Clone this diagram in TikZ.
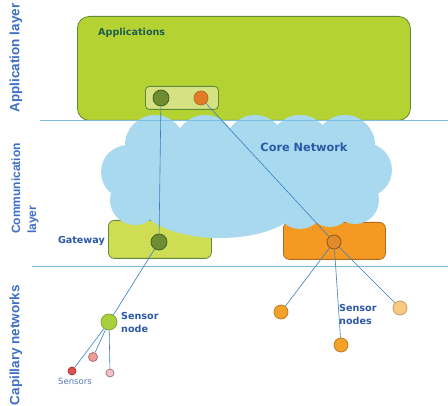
\documentclass[tikz,border=0pt]{standalone}
\usepackage{fontspec}
\setmainfont{DejaVu Sans}
\newfontfamily\layerfont{Liberation Sans}
\definecolor{appgreen}{HTML}{B4D232}
\definecolor{appedge}{HTML}{5E8A3A}
\definecolor{subfill}{HTML}{D6E282}
\definecolor{olivedot}{HTML}{6E8C32}
\definecolor{oliveedge}{HTML}{3D6020}
\definecolor{gwfill}{HTML}{CFDD55}
\definecolor{orfill}{HTML}{F49A22}
\definecolor{oredge}{HTML}{B46A1E}
\definecolor{ordot}{HTML}{E08A2A}
\definecolor{ordotedge}{HTML}{8A5020}
\definecolor{cloudblue}{HTML}{A8D9EE}
\definecolor{limedot}{HTML}{A8D03A}
\definecolor{limeedge}{HTML}{7FA030}
\definecolor{sensred}{HTML}{E05050}
\definecolor{senspink}{HTML}{EE9A9A}
\definecolor{senslight}{HTML}{F5C0C8}
\definecolor{ornode}{HTML}{F4A12A}
\definecolor{ornodeedge}{HTML}{B87A20}
\definecolor{orlight}{HTML}{F9C882}
\definecolor{linkblue}{HTML}{3A7FC0}
\definecolor{sepblue}{HTML}{7DBEE0}
\definecolor{layerblue}{HTML}{3D6FC6}
\definecolor{tagblue}{HTML}{2A58A8}
\definecolor{appteal}{HTML}{1E5E50}

\begin{document}
\begin{tikzpicture}[x=1pt,y=-1pt,
    box/.style={draw=appedge, line width=0.8pt, rounded corners=6pt, inner sep=0, anchor=north west},
    dot/.style={circle, inner sep=0, minimum size=#1, line width=0.7pt},
    link/.style={draw=linkblue, line width=0.6pt},
    sep/.style={draw=sepblue, line width=0.6pt},
    layer/.style={rotate=90, inner sep=0, text=layerblue, font=\layerfont\bfseries\fontsize{13.5}{16}\selectfont},
    tag/.style={inner sep=0, text=tagblue, align=left, font=\bfseries\fontsize{9.6}{13}\selectfont}]
  \useasboundingbox (0,0) rectangle (448,406);

  % Application layer
  \node[box, fill=appgreen, rounded corners=12pt, minimum width=333pt, minimum height=104pt] (app) at (77,16) {};
  \node[anchor=north west, inner sep=0, text=appteal, font=\bfseries\fontsize{9.6}{12}\selectfont] (apptext) at (98,28) {Applications};
  \node[box, fill=subfill, rounded corners=4pt, minimum width=73pt, minimum height=23pt] (appsub) at (145,86) {};

  % Gateways
  \node[box, fill=gwfill, minimum width=103pt, minimum height=38pt] (gw) at (108,220) {};
  \node[box, draw=oredge, fill=orfill, minimum width=102pt, minimum height=37pt] (orbox) at (283,222) {};

  % Core network cloud
  \fill[cloudblue] (135,140) rectangle (365,220)
    (155,145) circle[radius=30pt] (205,145) circle[radius=30pt]
    (255,145) circle[radius=30pt] (300,145) circle[radius=30pt]
    (345,145) circle[radius=30pt]
    (128,172) circle[radius=27pt] (135,200) circle[radius=25pt]
    (365,170) circle[radius=27pt] (355,200) circle[radius=24pt]
    (220,200) ellipse[x radius=82pt, y radius=38pt]
    (300,205) circle[radius=24pt] (330,205) circle[radius=22pt];
  \node[tag, font=\bfseries\fontsize{11.3}{13}\selectfont] (core) at (304,147) {Core Network};

  % layer borders
  \draw[sep] (40,120) -- (448,120);
  \draw[sep] (32,266) -- (448,266);

  % Nodes
  \node[dot=16pt, fill=olivedot, draw=oliveedge] (appg) at (161,98) {};
  \node[dot=14pt, fill=ordot!90!red, draw=oredge] (appo) at (201,98) {};
  \node[dot=16pt, fill=olivedot, draw=oliveedge] (gwn) at (159,242) {};
  \node[dot=14pt, fill=ordot, draw=ordotedge] (orn) at (334,242) {};
  \node[dot=16pt, fill=limedot, draw=limeedge] (sn) at (109,322) {};
  \node[dot=8pt, fill=sensred, draw=sensred!70!black] (s1) at (72,371) {};
  \node[dot=9pt, fill=senspink, draw=senspink!70!black] (s2) at (93,357) {};
  \node[dot=8pt, fill=senslight, draw=senslight!60!black] (s3) at (110,373) {};
  \node[dot=14pt, fill=ornode, draw=ornodeedge] (on1) at (281,312) {};
  \node[dot=14pt, fill=ornode, draw=ornodeedge] (on2) at (341,345) {};
  \node[dot=14pt, fill=orlight, draw=ornodeedge!80] (on3) at (400,308) {};

  % Links
  \draw[link] (appg) -- (gwn);
  \draw[link] (appo) -- (orn);
  \draw[link] (gwn) -- (sn);
  \draw[link] (sn) -- (s1);
  \draw[link] (sn) -- (s2);
  \draw[link] (sn) -- (s3);
  \draw[link] (orn) -- (on1);
  \draw[link] (orn) -- (on2);
  \draw[link] (orn) -- (on3);

  % Labels
  \node[tag, anchor=east] (gwtext) at (105,241) {Gateway};
  \node[tag, anchor=west] (sntext) at (121,323) {Sensor\\node};
  \node[tag, anchor=west] (ontext) at (339,315) {Sensor\\nodes};
  \node[inner sep=0, text=tagblue!80, font=\fontsize{8.5}{10}\selectfont] (stext) at (75,381) {Sensors};

  \node[layer] (applayer) at (16,58) {Application layer};
  \node[layer, anchor=west, align=left, font=\layerfont\bfseries\fontsize{12}{16}\selectfont] (comlayer) at (25,234) {Communication\\layer};
  \node[layer] (caplayer) at (16,345) {Capillary networks};
\end{tikzpicture}
\end{document}
